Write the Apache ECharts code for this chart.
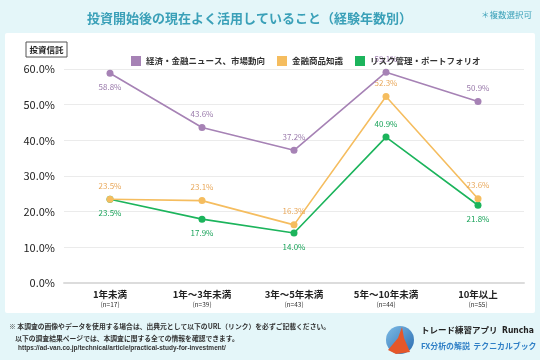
<!DOCTYPE html>
<html><head><meta charset="utf-8">
<script src="https://cdn.jsdelivr.net/npm/echarts@6/dist/echarts.min.js"></script>
<style>html,body{margin:0;padding:0;background:#e4f6f9;}#c{width:540px;height:360px;}</style>
</head><body><div id="c"></div>
<script>
const categories = ['1年未満','1年～3年未満','3年～5年未満','5年～10年未満','10年以上'];
const sampleSizes = ['(n=17)','(n=39)','(n=43)','(n=44)','(n=55)'];
const seriesNames = ['経済・金融ニュース、市場動向','金融商品知識','リスク管理・ポートフォリオ'];
const newsValues = [58.8, 43.6, 37.2, 59.1, 50.9];
const productValues = [23.5, 23.1, 16.3, 52.3, 23.6];
const riskValues = [23.5, 17.9, 14.0, 40.9, 21.8];
const yTicks = [0, 10, 20, 30, 40, 50, 60];

const colors = ['#a682b5', '#f5bd5f', '#1cb45c'];
const labelColors = ['#9a7aab', '#e9a85a', '#1aa35a'];

function mkData(vals, positions) {
  return vals.map((v, i) => ({value: v, label: {position: positions[i]}}));
}
const newsPos = ['bottom','top','top','top','top'];
const prodPos = ['top','top','top','top','top'];
const riskPos = ['bottom','bottom','bottom','top','bottom'];

const chart = echarts.init(document.getElementById('c'));
const font = '"Noto Sans CJK JP", "Noto Sans", sans-serif';
function mkSeries(name, vals, pos, idx) {
  return {
    name: name, type: 'line', data: mkData(vals, pos),
    symbol: 'circle', symbolSize: 7,
    lineStyle: {color: colors[idx], width: 1.6},
    itemStyle: {color: colors[idx]},
    label: {show: true, formatter: p => p.value.toFixed(1) + '%', color: labelColors[idx], fontSize: 8, fontFamily: font, distance: 6},
    z: 3 - idx
  };
}
chart.setOption({
  backgroundColor: '#e4f6f9',
  textStyle: {fontFamily: font},
  title: {
    text: '投資開始後の現在よく活用していること（経験年数別）',
    left: 82, top: 7,
    textStyle: {color: '#3aa0b8', fontSize: 13, fontWeight: 'bold', fontFamily: font}
  },
  legend: {
    top: 51, left: 126, itemWidth: 10, itemHeight: 10, itemGap: 12,
    icon: 'rect',
    textStyle: {fontSize: 8.5, color: '#333', fontWeight: 'bold', fontFamily: font},
    data: seriesNames
  },
  grid: {left: 64, right: 16, top: 69, bottom: 77},
  xAxis: {
    type: 'category', data: categories, boundaryGap: true,
    axisLine: {lineStyle: {color: '#dcdcdc', width: 2}},
    axisTick: {show: false},
    axisLabel: {
      margin: 6, interval: 0,
      formatter: (v, i) => '{a|' + v + '}\n{b|' + sampleSizes[i] + '}',
      rich: {
        a: {fontSize: 9.5, fontWeight: 'bold', color: '#222', lineHeight: 11, fontFamily: font},
        b: {fontSize: 6.5, color: '#333', lineHeight: 9, fontFamily: font}
      }
    }
  },
  yAxis: {
    type: 'value', min: yTicks[0], max: yTicks[yTicks.length - 1], interval: 10,
    axisLabel: {formatter: v => v.toFixed(1) + '%', fontSize: 11, color: '#222', fontFamily: font, margin: 9},
    splitLine: {lineStyle: {color: '#ebebeb', width: 1}},
    axisLine: {show: false}, axisTick: {show: false}
  },
  graphic: [
    {type: 'rect', z: -10, shape: {x: 5, y: 33, width: 530, height: 280, r: 2}, style: {fill: '#ffffff'}},
    {type: 'text', right: 8, top: 11, style: {text: '＊複数選択可', fill: '#3aa0b8', fontSize: 8.5, fontFamily: font}},
    {type: 'rect', shape: {x: 26, y: 42, width: 41, height: 15}, style: {fill: '#fff', stroke: '#555', lineWidth: 1}},
    {type: 'text', x: 46.5, y: 49.5, style: {text: '投資信託', fill: '#222', fontSize: 8.5, fontWeight: 'bold', fontFamily: font, align: 'center', verticalAlign: 'middle'}},
    {type: 'text', x: 9, y: 321, style: {text: '※ 本調査の画像やデータを使用する場合は、出典元として以下のURL（リンク）を必ずご記載ください。\n    以下の調査結果ページでは、本調査に関する全ての情報を確認できます。', fill: '#333', fontSize: 6.8, fontWeight: 'bold', lineHeight: 11.5, fontFamily: font}},
    {type: 'text', x: 18, y: 345, style: {text: 'https://ad-van.co.jp/technical/article/practical-study-for-investment/', fill: '#333', fontSize: 6.5, fontWeight: 'bold', fontFamily: 'Liberation Sans, sans-serif'}},
    {type: 'circle', shape: {cx: 400, cy: 340, r: 14}, style: {fill: {type: 'linear', x: 0, y: 0, x2: 1, y2: 1, colorStops: [{offset: 0, color: '#7dbbe6'}, {offset: 1, color: '#2a6cb0'}]}}},
    {type: 'polygon', shape: {points: [[402, 327], [404, 338], [410, 352], [396, 354], [388, 350], [398, 338]]}, style: {fill: '#e5572a'}},
    {type: 'text', x: 421, y: 326, style: {text: 'トレード練習アプリ', fill: '#222', fontSize: 8.5, fontWeight: 'bold', fontFamily: font}},
    {type: 'text', x: 502, y: 326, style: {text: 'Runcha', fill: '#222', fontSize: 8.5, fontWeight: 'bold', fontFamily: '"DejaVu Sans Condensed", "Liberation Sans Narrow", sans-serif'}},
    {type: 'text', x: 421, y: 342, style: {text: 'FX分析の解説  テクニカルブック', fill: '#2f7fc6', fontSize: 7.9, fontWeight: 'bold', fontFamily: font}}
  ],
  series: [
    mkSeries(seriesNames[0], newsValues, newsPos, 0),
    mkSeries(seriesNames[1], productValues, prodPos, 1),
    mkSeries(seriesNames[2], riskValues, riskPos, 2)
  ]
});
</script></body></html>
